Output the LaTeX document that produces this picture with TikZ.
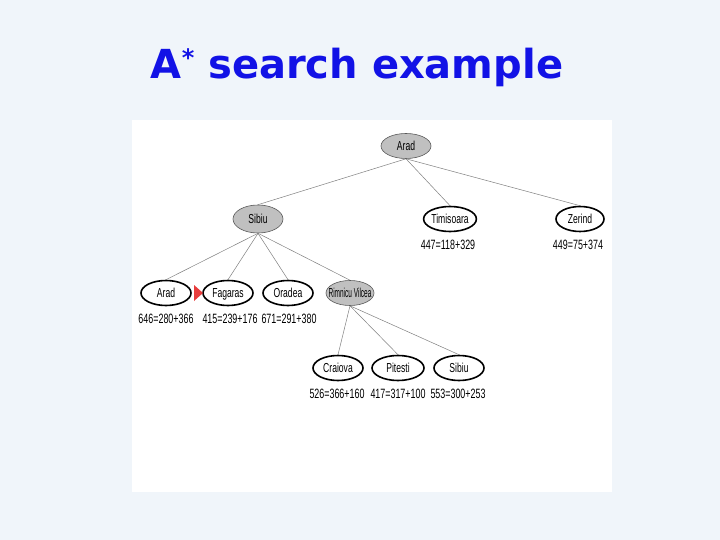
\documentclass[tikz,border=0pt]{standalone}
\usepackage{fontspec}
\setsansfont{DejaVu Sans}
\newfontfamily\cityfont[FakeStretch=0.66]{Liberation Sans}
\newfontfamily\tightfont[FakeStretch=0.5]{Liberation Sans}
\usetikzlibrary{shapes.geometric}
\definecolor{slidebg}{RGB}{240,245,250}
\definecolor{titleblue}{RGB}{18,18,230}
\definecolor{nodegray}{RGB}{192,192,192}
\definecolor{marker}{RGB}{232,60,60}

\begin{document}
\begin{tikzpicture}[x=1pt,y=-1pt,
  open/.style={ellipse,draw,line width=1.6pt,fill=white,minimum width=50pt,minimum height=25pt,
    inner sep=0pt,text height=9pt,text depth=0pt,font=\cityfont\fontsize{13}{13}\selectfont},
  done/.style={open,line width=0.6pt,draw=gray!70!black,fill=nodegray},
  fval/.style={inner sep=0pt,font=\cityfont\fontsize{13.5}{13.5}\selectfont},
  edge/.style={draw=gray,line width=0.5pt}]
  \fill[slidebg] (0,0) rectangle (720,540);
  \fill[white] (132,120) rectangle (612,492);
  \node[font=\sffamily\bfseries\fontsize{40}{40}\selectfont,text=titleblue] (title) at (357,67)
    {A\raisebox{0.28em}{\fontsize{24}{24}\selectfont*} search example};

  % expanded nodes
  \node[done] (arad) at (406,146) {Arad};
  \node[done,minimum height=28pt] (sibiu) at (258,219) {Sibiu};
  \node[done,minimum width=48pt,font=\tightfont\fontsize{13}{13}\selectfont] (rimnicu) at (350,293)
    {\makebox[30pt][c]{Rimnicu Vilcea}};

  % frontier
  \node[open,minimum width=52pt] (timi) at (450,219) {Timisoara};
  \node[open,minimum width=48pt] (zerind) at (580,219) {Zerind};
  \node[open] (arad2) at (166,293) {Arad};
  \node[open] (fagaras) at (228,293) {Fagaras};
  \node[open] (oradea) at (288,293) {Oradea};
  \node[open] (craiova) at (338,368) {Craiova};
  \node[open,minimum width=52pt] (pitesti) at (398,368) {Pitesti};
  \node[open] (sibiu2) at (459,368) {Sibiu};

  % f = g + h
  \node[fval] (ftimi) at (448,245) {447=118+329};
  \node[fval] (fzerind) at (578,245) {449=75+374};
  \node[fval] (farad2) at (166,319) {646=280+366};
  \node[fval] (ffagaras) at (230,319) {415=239+176};
  \node[fval] (foradea) at (289,319) {671=291+380};
  \node[fval] (fcraiova) at (337,394) {526=366+160};
  \node[fval] (fpitesti) at (398,394) {417=317+100};
  \node[fval] (fsibiu2) at (458,394) {553=300+253};

  \draw[edge] (arad.south) -- (sibiu.north);
  \draw[edge] (arad.south) -- (timi.north);
  \draw[edge] (arad.south) -- (zerind.north);
  \draw[edge] (sibiu.south) -- (arad2.north);
  \draw[edge] (sibiu.south) -- (fagaras.north);
  \draw[edge] (sibiu.south) -- (oradea.north);
  \draw[edge] (sibiu.south) -- (rimnicu.north);
  \draw[edge] (rimnicu.south) -- (craiova.north);
  \draw[edge] (rimnicu.south) -- (pitesti.north);
  \draw[edge] (rimnicu.south) -- (sibiu2.north);

  \fill[marker] (194,285) -- (203,293) -- (194,301) -- cycle;
\end{tikzpicture}
\end{document}
